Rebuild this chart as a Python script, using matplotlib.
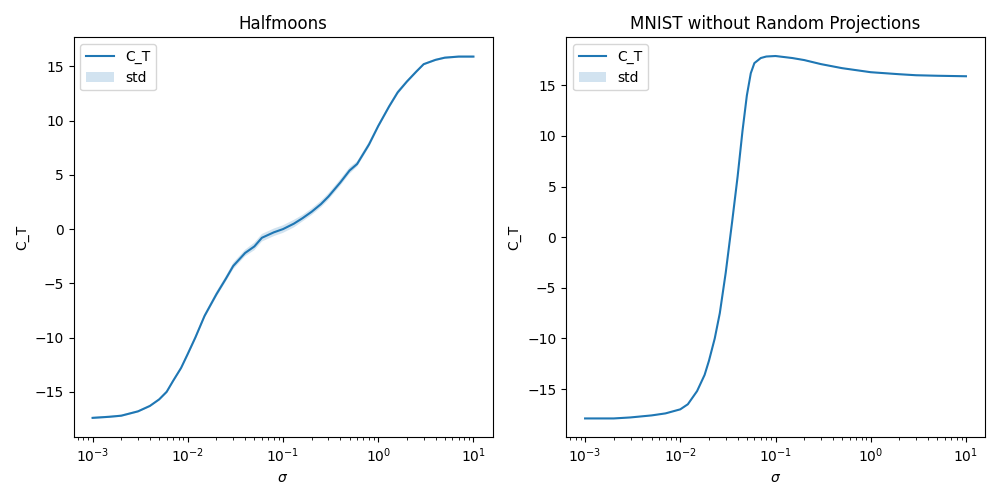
import matplotlib.pyplot as plt

sigma_hm = [1e-3, 1.5e-3, 2e-3, 3e-3, 4e-3, 5e-3, 6e-3, 7e-3, 8.5e-3, 1e-2, 1.2e-2, 1.5e-2,
            2e-2, 2.5e-2, 3e-2, 4e-2, 5e-2, 6e-2, 8e-2, 1e-1, 1.3e-1, 1.6e-1, 2e-1, 2.5e-1,
            3e-1, 4e-1, 5e-1, 6e-1, 8e-1, 1.0, 1.3, 1.6, 2.0, 2.5, 3.0, 4.0, 5.0, 7.0, 10.0]
ct_hm = [-17.4, -17.3, -17.2, -16.8, -16.3, -15.7, -15.0, -14.0, -12.8, -11.5, -10.0, -8.0,
         -6.0, -4.6, -3.4, -2.2, -1.6, -0.8, -0.3, 0.0, 0.5, 1.0, 1.6, 2.3,
         3.0, 4.3, 5.4, 6.0, 7.8, 9.5, 11.3, 12.6, 13.6, 14.5, 15.2, 15.6, 15.8, 15.9, 15.9]
std_hm = [0.1, 0.1, 0.1, 0.1, 0.1, 0.1, 0.15, 0.15, 0.15, 0.2, 0.2, 0.2,
          0.25, 0.25, 0.3, 0.3, 0.35, 0.35, 0.35, 0.35, 0.35, 0.3, 0.3, 0.3,
          0.3, 0.3, 0.3, 0.25, 0.25, 0.2, 0.2, 0.2, 0.15, 0.15, 0.1, 0.1, 0.1, 0.1, 0.1]

sigma_mn = [1e-3, 2e-3, 3e-3, 5e-3, 7e-3, 1e-2, 1.2e-2, 1.5e-2, 1.8e-2, 2e-2, 2.3e-2, 2.6e-2,
            3e-2, 3.5e-2, 4e-2, 4.5e-2, 5e-2, 5.5e-2, 6e-2, 7e-2, 8e-2, 1e-1, 1.5e-1, 2e-1,
            3e-1, 5e-1, 1.0, 2.0, 3.0, 5.0, 10.0]
ct_mn = [-17.9, -17.9, -17.8, -17.6, -17.4, -17.0, -16.5, -15.2, -13.6, -12.2, -10.0, -7.5,
         -3.5, 1.5, 6.0, 10.5, 14.0, 16.2, 17.2, 17.7, 17.85, 17.9, 17.7, 17.5,
         17.1, 16.7, 16.3, 16.1, 16.0, 15.95, 15.9]
std_mn = [0.05] * len(ct_mn)


def panel(ax, x, y, s, title):
    ax.plot(x, y, label='C_T')
    ax.fill_between(x, [a - b for a, b in zip(y, s)], [a + b for a, b in zip(y, s)],
                    alpha=0.2, label='std')
    ax.set_xscale('log')
    ax.set_title(title)
    ax.set_xlabel(r'$\sigma$')
    ax.set_ylabel('C_T')
    ax.legend(loc='upper left')


fig, (ax1, ax2) = plt.subplots(1, 2, figsize=(10, 5))
panel(ax1, sigma_hm, ct_hm, std_hm, 'Halfmoons')
panel(ax2, sigma_mn, ct_mn, std_mn, 'MNIST without Random Projections')
fig.tight_layout()
fig.savefig('out.png', dpi=100)
